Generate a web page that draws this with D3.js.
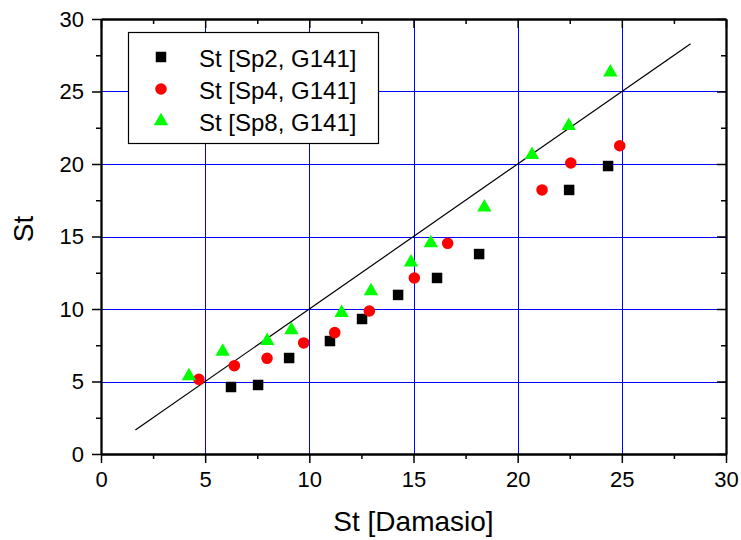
<!DOCTYPE html>
<html>
<head>
<meta charset="utf-8">
<script src="https://cdn.jsdelivr.net/npm/d3@7"></script>
<style>
  body { margin: 0; background: #fff; }
  text { font-family: Arial, "Liberation Sans", sans-serif; fill: #000; }
</style>
</head>
<body>
<div id="chart"></div>
<script>
const width = 741;
const height = 540;

// data
const sp2X = [6.24, 7.54, 9.03, 10.99, 12.53, 14.26, 16.13, 18.15, 22.47, 24.34];
const sp2Y = [4.62, 4.76, 6.62, 7.79, 9.31, 10.97, 12.14, 13.79, 18.21, 19.86];

const sp4X = [4.70, 6.40, 7.97, 9.73, 11.22, 12.88, 15.04, 16.64, 21.17, 22.55, 24.90];
const sp4Y = [5.15, 6.09, 6.60, 7.66, 8.37, 9.86, 12.14, 14.53, 18.21, 20.07, 21.26];

const sp8X = [4.22, 5.84, 7.98, 9.14, 11.55, 12.96, 14.88, 15.83, 18.40, 20.69, 22.45, 24.45];
const sp8Y = [5.38, 7.06, 7.81, 8.55, 9.74, 11.24, 13.22, 14.55, 17.01, 20.64, 22.64, 26.32];

const seriesNames = ["St [Sp2, G141]", "St [Sp4, G141]", "St [Sp8, G141]"];
const lineX = [1.65, 28.3];
const majorTicks = [0, 5, 10, 15, 20, 25, 30];
const minorTicks = [2.5, 7.5, 12.5, 17.5, 22.5, 27.5];
const gridTicks = [5, 10, 15, 20, 25];

const pLeft = 101, pRight = 726, pTop = 19, pBottom = 454;

let svg = d3.select("#chart").append("svg")
    .attr("width", width)
    .attr("height", height);

let x = d3.scaleLinear().domain([0, 30]).range([pLeft, pRight]);
let y = d3.scaleLinear().domain([0, 30]).range([pBottom, pTop]);

// grid lines snapped to the pixel grid so they stay pure blue
svg.append("g").selectAll("line")
    .data(gridTicks)
    .enter().append("line")
    .attr("x1", d => Math.round(x(d)) + 0.5).attr("x2", d => Math.round(x(d)) + 0.5)
    .attr("y1", pTop).attr("y2", pBottom)
    .attr("stroke", "#0000ff").attr("stroke-width", 1);

svg.append("g").selectAll("line")
    .data(gridTicks)
    .enter().append("line")
    .attr("x1", pLeft).attr("x2", pRight)
    .attr("y1", d => Math.round(y(d)) + 0.5).attr("y2", d => Math.round(y(d)) + 0.5)
    .attr("stroke", "#0000ff").attr("stroke-width", 1);

// axes
function styleAxis(g) {
    g.select(".domain").attr("stroke", "#000").attr("stroke-width", 1.8);
    g.selectAll(".tick line").attr("stroke", "#000").attr("stroke-width", 1.5);
    g.selectAll(".tick text")
        .style("font-size", "22px")
        .style("font-family", "Arial, 'Liberation Sans', sans-serif");
}

svg.append("g")
    .attr("transform", `translate(0,${pBottom})`)
    .call(d3.axisBottom(x).tickValues(majorTicks).tickSize(9).tickSizeOuter(0).tickPadding(8))
    .call(styleAxis);
svg.append("g")
    .attr("transform", `translate(0,${pBottom})`)
    .call(d3.axisBottom(x).tickValues(minorTicks).tickSize(5).tickSizeOuter(0).tickFormat(""))
    .call(styleAxis);

svg.append("g")
    .attr("transform", `translate(${pLeft},0)`)
    .call(d3.axisLeft(y).tickValues(majorTicks).tickSize(9).tickSizeOuter(0).tickPadding(8))
    .call(styleAxis);
svg.append("g")
    .attr("transform", `translate(${pLeft},0)`)
    .call(d3.axisLeft(y).tickValues(minorTicks).tickSize(5).tickSizeOuter(0).tickFormat(""))
    .call(styleAxis);

// mirror axes, ticks inward
svg.append("g")
    .attr("transform", `translate(0,${pTop})`)
    .call(d3.axisBottom(x).tickValues(majorTicks).tickSize(9).tickSizeOuter(0).tickFormat(""))
    .call(styleAxis);
svg.append("g")
    .attr("transform", `translate(0,${pTop})`)
    .call(d3.axisBottom(x).tickValues(minorTicks).tickSize(5).tickSizeOuter(0).tickFormat(""))
    .call(styleAxis);
svg.append("g")
    .attr("transform", `translate(${pRight},0)`)
    .call(d3.axisLeft(y).tickValues(majorTicks).tickSize(9).tickSizeOuter(0).tickFormat(""))
    .call(styleAxis);
svg.append("g")
    .attr("transform", `translate(${pRight},0)`)
    .call(d3.axisLeft(y).tickValues(minorTicks).tickSize(5).tickSizeOuter(0).tickFormat(""))
    .call(styleAxis);

// axis titles
svg.append("text")
    .attr("x", (pLeft + pRight) / 2)
    .attr("y", 531)
    .attr("text-anchor", "middle")
    .style("font-size", "28px")
    .text("St [Damasio]");

svg.append("text")
    .attr("transform", `translate(33,229) rotate(-90)`)
    .attr("text-anchor", "middle")
    .style("font-size", "28px")
    .text("St");

// y = x line
svg.append("line")
    .attr("x1", x(lineX[0])).attr("y1", y(lineX[0]))
    .attr("x2", x(lineX[1])).attr("y2", y(lineX[1]))
    .attr("stroke", "#000").attr("stroke-width", 1.2);

// markers
const series = [
    { xs: sp2X, ys: sp2Y, type: d3.symbolSquare, size: 110, color: "#000000" },
    { xs: sp4X, ys: sp4Y, type: d3.symbolCircle, size: 105, color: "#ff0000" },
    { xs: sp8X, ys: sp8Y, type: d3.symbolTriangle, size: 90, color: "#00ff00" }
];

series.forEach(s => {
    svg.append("g").selectAll("path")
        .data(s.xs.map((v, i) => [v, s.ys[i]]))
        .enter().append("path")
        .attr("d", d3.symbol().type(s.type).size(s.size))
        .attr("transform", d => `translate(${x(d[0])},${y(d[1])})`)
        .attr("fill", s.color);
});

// legend
let legend = svg.append("g");
legend.append("rect")
    .attr("x", 128.5).attr("y", 32.5)
    .attr("width", 250).attr("height", 111)
    .attr("fill", "#fff").attr("stroke", "#000").attr("stroke-width", 1.2);

series.forEach((s, i) => {
    let cy = 57 + i * 32;
    legend.append("path")
        .attr("d", d3.symbol().type(s.type).size(s.size))
        .attr("transform", `translate(161,${cy})`)
        .attr("fill", s.color);
    legend.append("text")
        .attr("x", 199)
        .attr("y", cy + 10)
        .style("font-size", "24px")
        .text(seriesNames[i]);
});
</script>
</body>
</html>
